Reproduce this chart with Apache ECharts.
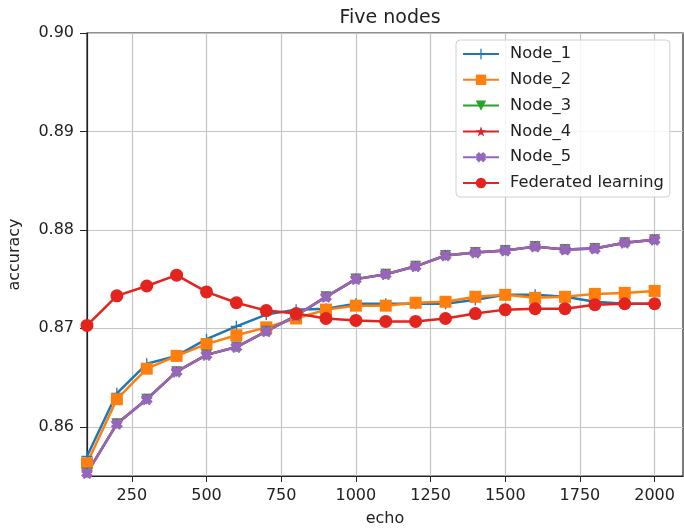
<!DOCTYPE html>
<html>
<head>
<meta charset="utf-8">
<script src="https://cdn.jsdelivr.net/npm/echarts@6/dist/echarts.min.js"></script>
<style>
html,body{margin:0;padding:0;background:#fff;}
#chart{width:684px;height:529px;}
</style>
</head>
<body>
<div id="chart"></div>
<script>
const echo = [100,200,300,400,500,600,700,800,900,1000,1100,1200,1300,1400,1500,1600,1700,1800,1900,2000];
const node1 = [0.8570,0.8634,0.8664,0.8672,0.8689,0.8702,0.8714,0.8719,0.8720,0.8725,0.8725,0.8725,0.8725,0.8729,0.8734,0.8734,0.8732,0.8727,0.8725,0.8725];
const node2 = [0.8563,0.8628,0.8659,0.8672,0.8684,0.8693,0.8701,0.8710,0.8719,0.8723,0.8723,0.8726,0.8727,0.8732,0.8734,0.8731,0.8732,0.8735,0.8736,0.8738];
const node3 = [0.8553,0.8603,0.8628,0.8656,0.8673,0.8681,0.8697,0.8713,0.8732,0.8750,0.8755,0.8763,0.8774,0.8777,0.8779,0.8783,0.8780,0.8781,0.8787,0.8790];
const node4 = [0.8553,0.8603,0.8628,0.8656,0.8673,0.8681,0.8697,0.8713,0.8732,0.8750,0.8755,0.8763,0.8774,0.8777,0.8779,0.8783,0.8780,0.8781,0.8787,0.8790];
const node5 = [0.8553,0.8603,0.8628,0.8656,0.8673,0.8681,0.8697,0.8713,0.8732,0.8750,0.8755,0.8763,0.8774,0.8777,0.8779,0.8783,0.8780,0.8781,0.8787,0.8790];
const fed = [0.8703,0.8733,0.8743,0.8754,0.8737,0.8726,0.8718,0.8715,0.8710,0.8708,0.8707,0.8707,0.8710,0.8715,0.8719,0.8720,0.8720,0.8724,0.8725,0.8725];
const xTicks = [250,500,750,1000,1250,1500,1750,2000];
const yTicks = [0.86,0.87,0.88,0.89,0.90];
const seriesNames = ['Node_1','Node_2','Node_3','Node_4','Node_5','Federated learning'];

const FONT = 'DejaVu Sans';
const plusPath = 'path://M4.4,0h1.2v10h-1.2z M0,4.4h10v1.2h-10z';
const starPath = 'path://M50,0 L61.8,35.4 L99,35.4 L68.8,57.3 L80.4,92.7 L50,70.8 L19.6,92.7 L31.2,57.3 L1,35.4 L38.2,35.4 Z';
const xPath = 'path://M0,3 L3,0 L5,2 L7,0 L10,3 L8,5 L10,7 L7,10 L5,8 L3,10 L0,7 L2,5 Z';

function pairs(ys){ return echo.map((x,i)=>[x,ys[i]]); }

function mk(name, data, color, symbol, size, extra){
  return Object.assign({
    name: name,
    type: 'line',
    data: pairs(data),
    color: color,
    symbol: symbol,
    symbolSize: size,
    showAllSymbol: true,
    lineStyle: {width: 2.5, color: color},
    itemStyle: {color: color, borderWidth: 0},
    emphasis: {disabled: true},
    animation: false
  }, extra || {});
}

const chart = echarts.init(document.getElementById('chart'), null, {renderer: 'canvas'});
chart.setOption({
  backgroundColor: '#ffffff',
  animation: false,
  title: {
    text: 'Five nodes',
    left: 385, top: 4, textAlign: 'center',
    textStyle: {fontFamily: FONT, fontSize: 19, fontWeight: 'normal', color: '#222'}
  },
  grid: {left: 87, right: 1, top: 33, bottom: 53, containLabel: false, outerBoundsMode: 'none',
    show: true, borderColor: '#222', borderWidth: 1.2, backgroundColor: 'transparent'},
  legend: {
    orient: 'vertical',
    left: 456, top: 40,
    padding: [6, 6, 6, 6],
    itemWidth: 36, itemHeight: 13, itemGap: 9.8,
    backgroundColor: 'rgba(255,255,255,0.85)',
    borderColor: '#d0d0d0', borderWidth: 1, borderRadius: 4,
    textStyle: {fontFamily: FONT, fontSize: 16.3, color: '#222', padding: [0,0,0,6]},
    data: seriesNames
  },
  xAxis: {
    type: 'value', min: 100, max: 2095,
    name: 'echo', nameLocation: 'middle', nameGap: 35,
    nameTextStyle: {fontFamily: FONT, fontSize: 16, color: '#222'},
    axisLine: {show: true, lineStyle: {color: '#222', width: 1.2}},
    axisTick: {show: true, length: 6, lineStyle: {color: '#222', width: 1}, customValues: xTicks},
    axisLabel: {fontFamily: FONT, fontSize: 16, color: '#222', margin: 12, customValues: xTicks,
      formatter: v => String(v)},
    splitLine: {show: true, lineStyle: {color: '#c4c4c4', width: 1.2}}
  },
  yAxis: {
    type: 'value', min: 0.855, max: 0.90,
    name: 'accuracy', nameLocation: 'middle', nameGap: 64,
    nameTextStyle: {fontFamily: FONT, fontSize: 16, color: '#222'},
    axisLine: {show: true, lineStyle: {color: '#222', width: 1.2}},
    axisTick: {show: true, length: 7, lineStyle: {color: '#222', width: 1}, customValues: yTicks},
    axisLabel: {fontFamily: FONT, fontSize: 16, color: '#222', margin: 13, customValues: yTicks,
      formatter: v => v.toFixed(2)},
    splitLine: {show: true, lineStyle: {color: '#c4c4c4', width: 1.2}}
  },
  series: [
    mk('Node_1', node1, '#1f77b4', plusPath, 11),
    mk('Node_2', node2, '#ff7f0e', 'rect', 12),
    mk('Node_3', node3, '#2ca02c', 'triangle', 11, {symbolRotate: 180}),
    mk('Node_4', node4, '#d62728', starPath, 12),
    mk('Node_5', node5, '#9467bd', xPath, 12),
    mk('Federated learning', fed, '#e3231d', 'circle', 13)
  ]
});
</script>
</body>
</html>
